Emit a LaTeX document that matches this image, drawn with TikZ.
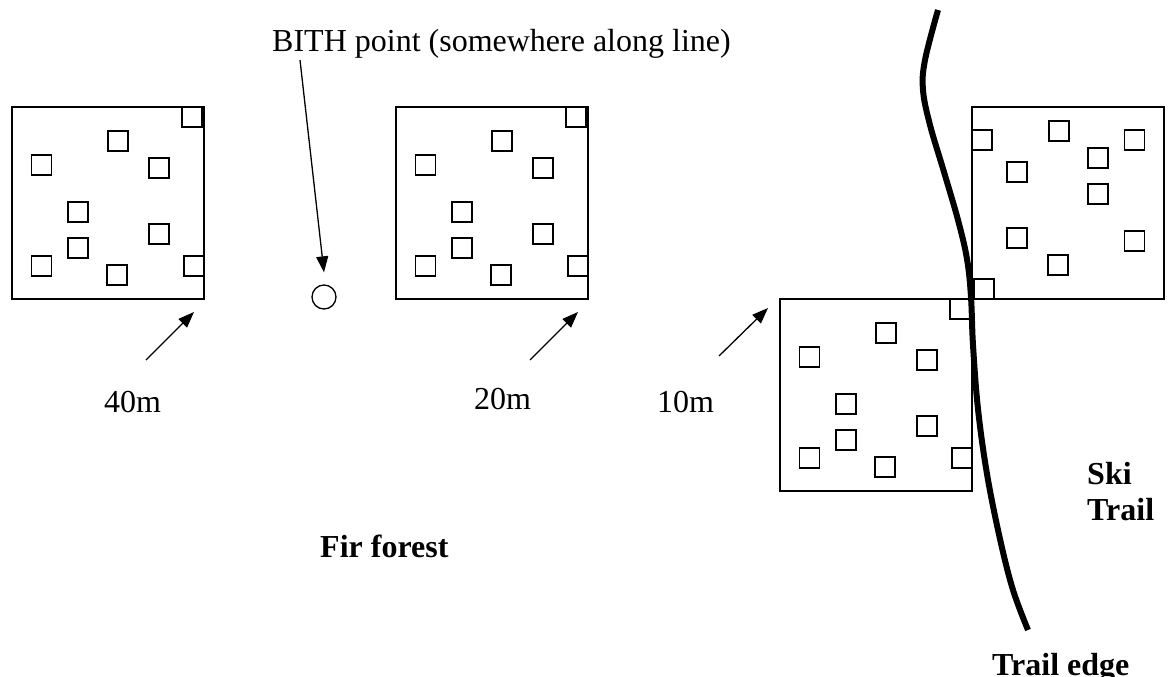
\documentclass[tikz,border=0pt]{standalone}
\usepackage{fontspec}
\setmainfont{Liberation Serif}
\usetikzlibrary{arrows.meta,calc}

\tikzset{
  plotbox/.style={draw, line width=1.5pt, minimum size=192pt, inner sep=0pt, outer sep=0pt, anchor=north west},
  quad/.style={draw, line width=1.5pt, minimum size=20pt, inner sep=0pt, outer sep=0pt},
  pointer/.style={line width=1.3pt, -{Triangle[length=16pt,width=12pt]}},
  label/.style={font=\fontsize{32}{37}\selectfont, inner sep=0pt, anchor=base west},
  boldlabel/.style={font=\fontsize{32}{37}\selectfont\bfseries, inner sep=0pt, anchor=base west},
  trail/.style={line width=6pt, line cap=butt}
}

% quadrat centres measured from the top-left corner of a 192 x 192 plot
\newcommand{\quadlist}{180/10, 106/34, 29.5/58, 147/61, 66/105, 147/127, 66/141, 29.5/159, 105/168, 182/159}

\begin{document}
\begin{tikzpicture}[x=1pt, y=-1pt]
\useasboundingbox (0,0) rectangle (1168,677);

% four square plots
\node[plotbox] (p1) at (12,107) {};
\node[plotbox] (p2) at (396,107) {};
\node[plotbox] (p3) at (972,107) {};
\node[plotbox] (p4) at (780,299) {};

% quadrats inside each plot (the plot across the trail is turned half round)
\foreach \dx/\dy [count=\i] in \quadlist {
  \node[quad] (p1q\i) at ($(p1.north west)+(\dx,\dy)$) {};
  \node[quad] (p2q\i) at ($(p2.north west)+(\dx,\dy)$) {};
  \node[quad] (p4q\i) at ($(p4.north west)+(\dx,\dy)$) {};
  \node[quad] (p3q\i) at ($(p3.south east)+(-\dx,-\dy)$) {};
}

% trail edge
\draw[trail] plot[smooth, tension=0.6] coordinates {
  (938,10) (925,60) (923,90) (930,125) (944,172) (958,220) (967,259) (971,297)
  (973,345) (978,409) (987,474) (1000,539) (1013,590) (1028,630)};

% BITH point
\node[label] (bith) at (272,52) {BITH point (somewhere along line)};
\node[draw, circle, line width=1.3pt, minimum size=24pt, inner sep=0pt] (bithpt) at (324,297) {};
\coordinate (bithfrom) at (300,60);
\coordinate (bithto) at ($(bithpt.north)+(0,-12)$);
\draw[pointer] (bithfrom) -- (bithto);

% distance labels with their arrows
\node[label] (d40) at (104,412) {40m};
\node[label] (d20) at (474,409) {20m};
\node[label] (d10) at (657,412) {10m};

\coordinate (d40from) at (146,360);
\coordinate (d40to)   at ($(p1.south east)+(-10,13)$);
\coordinate (d20from) at (530,360);
\coordinate (d20to)   at ($(p2.south east)+(-10,13)$);
\coordinate (d10from) at (719,356);
\coordinate (d10to)   at ($(p4.north west)+(-12,9)$);
\draw[pointer] (d40from) -- (d40to);
\draw[pointer] (d20from) -- (d20to);
\draw[pointer] (d10from) -- (d10to);

% area names
\node[boldlabel] (fir) at (320,557) {Fir forest};
\node[boldlabel] (ski) at (1087,484) {Ski};
\node[boldlabel] (skitrail) at (1087,520) {Trail};
\node[boldlabel] (edge) at (992,675) {Trail edge};
\end{tikzpicture}
\end{document}
